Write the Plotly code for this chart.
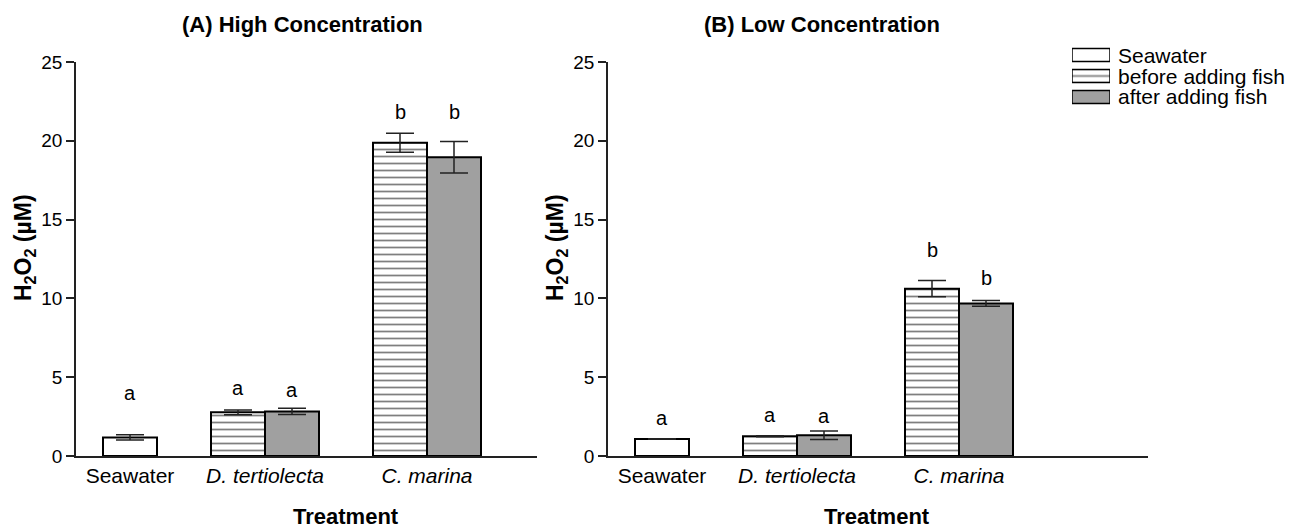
import plotly.graph_objects as go

# ---------------- data ----------------
categories = ["Seawater", "<i>D. tertiolecta</i>", "<i>C. marina</i>"]
series_names = ["Seawater", "before adding fish", "after adding fish"]

# Panel A: High concentration
a_seawater = [1.18]
a_seawater_err = [0.17]
a_before = [2.77, 19.88]          # D. tertiolecta, C. marina
a_before_err = [0.15, 0.60]
a_after = [2.83, 18.95]
a_after_err = [0.20, 1.00]
a_letters_sw = ["a"]
a_letters_before = ["a", "b"]
a_letters_after = ["a", "b"]
a_letter_y_sw = [4.0]
a_letter_y_before = [4.3, 21.8]
a_letter_y_after = [4.2, 21.8]

# Panel B: Low concentration
b_seawater = [1.08]
b_seawater_err = [0.02]
b_before = [1.25, 10.62]
b_before_err = [0.03, 0.52]
b_after = [1.31, 9.68]
b_after_err = [0.27, 0.18]
b_letters_sw = ["a"]
b_letters_before = ["a", "b"]
b_letters_after = ["a", "b"]
b_letter_y_sw = [2.4]
b_letter_y_before = [2.6, 13.1]
b_letter_y_after = [2.55, 11.3]

y_ticks = [0, 5, 10, 15, 20, 25]

# ---------------- layout constants ----------------
W, H = 1313, 532
PLOT_TOP, PLOT_BOTTOM = 62, 456
UNIT = 54.0  # pixels per bar width
cat_pos = [1.0, 3.5, 6.5]     # category centres (in bar widths)
A_X0, A_X1 = 76, 537
B_X0, B_X1 = 608, 1148
FONT = "Liberation Sans, Arial, sans-serif"


def pxx(px):
    return px / W


def pxy(py):
    return (H - py) / H


def style(name, lw=2):
    line = dict(color="black", width=lw)
    if name == "before adding fish":
        return dict(color="white", line=line,
                    pattern=dict(shape="-", size=7, solidity=0.25,
                                 fgcolor="black", bgcolor="white"))
    if name == "after adding fish":
        return dict(color="white", line=line,
                    pattern=dict(shape=".", size=2, solidity=0.5,
                                 fgcolor="black", bgcolor="#cdcdcd"))
    return dict(color="white", line=line)


def err(arr):
    return dict(type="data", array=arr, visible=True, color="#222",
                thickness=1.5, width=14)


fig = go.Figure()

panels = [
    ("x", "y", a_seawater, a_seawater_err, a_before, a_before_err, a_after, a_after_err,
     a_letters_sw, a_letter_y_sw, a_letters_before, a_letter_y_before, a_letters_after, a_letter_y_after),
    ("x2", "y2", b_seawater, b_seawater_err, b_before, b_before_err, b_after, b_after_err,
     b_letters_sw, b_letter_y_sw, b_letters_before, b_letter_y_before, b_letters_after, b_letter_y_after),
]

annotations = []
for (xa, ya, sw, swe, bf, bfe, af, afe,
     lsw, lysw, lbf, lybf, laf, lyaf) in panels:
    sw_x = [cat_pos[0]]
    bf_x = [p - 0.5 for p in cat_pos[1:]]
    af_x = [p + 0.5 for p in cat_pos[1:]]
    fig.add_trace(go.Bar(x=sw_x, y=sw, width=1, name=series_names[0],
                         marker=style(series_names[0]), error_y=err(swe),
                         xaxis=xa, yaxis=ya, showlegend=False))
    fig.add_trace(go.Bar(x=bf_x, y=bf, width=1, name=series_names[1],
                         marker=style(series_names[1]), error_y=err(bfe),
                         xaxis=xa, yaxis=ya, showlegend=False))
    fig.add_trace(go.Bar(x=af_x, y=af, width=1, name=series_names[2],
                         marker=style(series_names[2]), error_y=err(afe),
                         xaxis=xa, yaxis=ya, showlegend=False))
    for xs, ys, ts in [(sw_x, lysw, lsw), (bf_x, lybf, lbf), (af_x, lyaf, laf)]:
        for xv, yv, t in zip(xs, ys, ts):
            annotations.append(dict(x=xv, y=yv, xref=xa, yref=ya, text=t,
                                    showarrow=False, yanchor="middle",
                                    font=dict(size=20, color="black", family=FONT)))

# ---- legend (drawn as swatches on a small helper axis) ----
LEG_X0, LEG_X1 = 1072, 1110
LEG_ROW0, LEG_ROW_H = 55, 21
for i, name in enumerate(series_names):
    fig.add_trace(go.Bar(x=[1], y=[i], base=0, width=13 / LEG_ROW_H, orientation="h",
                         marker=style(name, lw=1.5), xaxis="x3", yaxis="y3",
                         showlegend=False, hoverinfo="skip"))
    annotations.append(dict(x=pxx(LEG_X1 + 6), y=pxy(LEG_ROW0 + i * LEG_ROW_H),
                            xref="paper", yref="paper", text=name, showarrow=False,
                            xanchor="left", yanchor="middle",
                            font=dict(size=21, color="black", family=FONT)))

# titles & axis labels
for cx, txt in [(302, "<b>(A) High Concentration</b>"), (822, "<b>(B) Low Concentration</b>")]:
    annotations.append(dict(x=pxx(cx), y=pxy(25), xref="paper", yref="paper", text=txt,
                            showarrow=False, xanchor="center", yanchor="middle",
                            font=dict(size=22, color="black", family=FONT)))
for cx in [346, 877]:
    annotations.append(dict(x=pxx(cx), y=pxy(516), xref="paper", yref="paper",
                            text="<b>Treatment</b>", showarrow=False,
                            xanchor="center", yanchor="middle",
                            font=dict(size=22, color="black", family=FONT)))
for cx in [24, 556]:
    annotations.append(dict(x=pxx(cx), y=pxy(248), xref="paper", yref="paper",
                            text="<b>H<sub>2</sub>O<sub>2</sub> (µM)</b>", textangle=-90,
                            showarrow=False, xanchor="center", yanchor="middle",
                            font=dict(size=23, color="black", family=FONT)))

xcommon = dict(showline=True, linecolor="#222", linewidth=1.5, ticks="",
               showgrid=False, zeroline=False, tickmode="array", tickvals=cat_pos,
               ticktext=categories, automargin=False,
               tickfont=dict(size=21, color="black", family=FONT))
ycommon = dict(showline=True, linecolor="#222", linewidth=1.5, ticks="outside",
               ticklen=8, tickwidth=1.5, tickcolor="#222", showgrid=False,
               zeroline=False, range=[0, 25], tickmode="array", tickvals=y_ticks,
               automargin=False, tickfont=dict(size=19, color="black", family=FONT))
hidden = dict(visible=False, showgrid=False, zeroline=False, automargin=False, fixedrange=True)

plot_ydom = [pxy(PLOT_BOTTOM), pxy(PLOT_TOP)]

fig.update_layout(
    width=W, height=H,
    margin=dict(l=0, r=0, t=0, b=0),
    paper_bgcolor="white", plot_bgcolor="white",
    barmode="overlay",
    showlegend=False,
    font=dict(family=FONT, color="black"),
    xaxis=dict(domain=[pxx(A_X0), pxx(A_X1)], range=[0, (A_X1 - A_X0) / UNIT], anchor="y", **xcommon),
    yaxis=dict(domain=plot_ydom, anchor="x", **ycommon),
    xaxis2=dict(domain=[pxx(B_X0), pxx(B_X1)], range=[0, (B_X1 - B_X0) / UNIT], anchor="y2", **xcommon),
    yaxis2=dict(domain=plot_ydom, anchor="x2", **ycommon),
    xaxis3=dict(domain=[pxx(LEG_X0), pxx(LEG_X1)], range=[0, 1], anchor="y3", **hidden),
    yaxis3=dict(domain=[pxy(LEG_ROW0 + 2.5 * LEG_ROW_H), pxy(LEG_ROW0 - 0.5 * LEG_ROW_H)],
                range=[2.5, -0.5], anchor="x3", **hidden),
    annotations=annotations,
)

fig.write_html("out.html", config={"displayModeBar": False},
               post_script="document.body.style.margin='0';document.body.style.overflow='hidden';")
